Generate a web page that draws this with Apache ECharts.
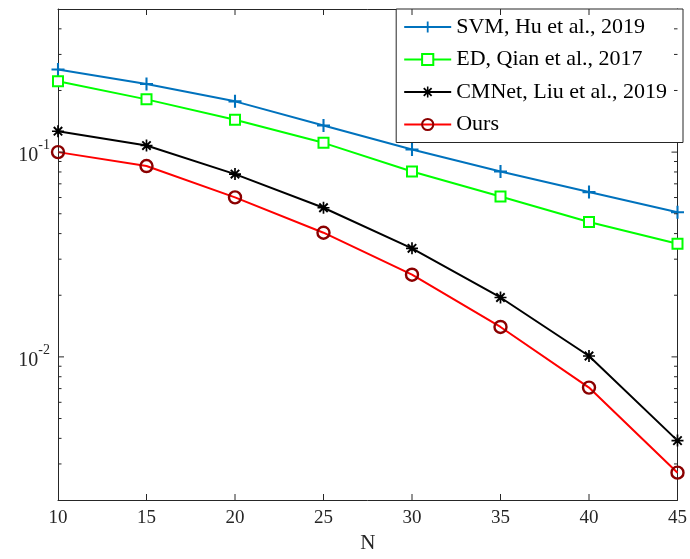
<!DOCTYPE html>
<html>
<head>
<meta charset="utf-8">
<script src="https://cdn.jsdelivr.net/npm/echarts@6/dist/echarts.min.js"></script>
<style>
html,body{margin:0;padding:0;background:#fff;}
#chart{width:690px;height:559px;}
</style>
</head>
<body>
<div id="chart"></div>
<script>
// ---- data ----
const xValues = [10, 15, 20, 25, 30, 35, 40, 45];
const svm   = [0.253, 0.215, 0.177, 0.135, 0.103, 0.0804, 0.0638, 0.0509];
const ed    = [0.222, 0.181, 0.144, 0.111, 0.0804, 0.0607, 0.0456, 0.0357];
const cmnet = [0.1265, 0.1077, 0.0781, 0.0535, 0.0339, 0.0195, 0.0101, 0.0039];
const ours  = [0.100, 0.0855, 0.0601, 0.0404, 0.0252, 0.0140, 0.00708, 0.00272];
const seriesNames = ['SVM, Hu et al., 2019', 'ED, Qian et al., 2017', 'CMNet, Liu et al., 2019', 'Ours'];
const xTicks = [15, 20, 25, 30, 35, 40];
const yMajorTicks = [0.01, 0.1];
const yMinorTicks = [0.003, 0.004, 0.005, 0.006, 0.007, 0.008, 0.009,
                     0.02, 0.03, 0.04, 0.05, 0.06, 0.07, 0.08, 0.09,
                     0.2, 0.3, 0.4];

// ---- style ----
const FONT = 'Liberation Serif';
const AX = '#262626';
const plusPath = 'path://M0.42,0H0.58V0.42H1V0.58H0.58V1H0.42V0.58H0V0.42H0.42Z';
const starPath = 'path://M0.43,0H0.57V0.43H1V0.57H0.57V1H0.43V0.57H0V0.43H0.43Z' +
  'M0.207,0.093L0.907,0.793L0.793,0.907L0.093,0.207Z' +
  'M0.793,0.093L0.907,0.207L0.207,0.907L0.093,0.793Z';

const pairs = arr => xValues.map((x, i) => [x, arr[i]]);
const X_MIN = 10, X_MAX = 45, Y_MIN = 0.002, Y_MAX = 0.5;
const MAJOR_LEN = 6, MINOR_LEN = 3.5;

const chart = echarts.init(document.getElementById('chart'), null, {renderer: 'canvas'});

const xBase = {
  type: 'value', min: X_MIN, max: X_MAX, interval: 5,
  axisLine: {show: true, onZero: false, lineStyle: {color: AX, width: 1}},
  axisTick: {show: false},
  splitLine: {show: false}
};
const yBase = {
  type: 'log', logBase: 10, min: Y_MIN, max: Y_MAX,
  splitLine: {show: false}
};

const yTickRows = yMinorTicks.map(v => [X_MIN, v, MINOR_LEN])
  .concat(yMajorTicks.map(v => [X_MIN, v, MAJOR_LEN]));
const xTickRows = xTicks.map(v => [v, Y_MIN, MAJOR_LEN]);
const ST = {stroke: AX, lineWidth: 1};

const option = {
  animation: false,
  backgroundColor: '#fff',
  grid: {left: 58, right: 7, top: 9, bottom: 56, containLabel: false},
  xAxis: [
    Object.assign({}, xBase, {
      position: 'bottom',
      name: 'N', nameLocation: 'middle', nameGap: 33,
      nameTextStyle: {fontFamily: FONT, fontSize: 21, color: AX},
      axisLabel: {show: true, margin: 9, fontFamily: FONT, fontSize: 19, color: AX}
    }),
    Object.assign({}, xBase, {
      position: 'top',
      axisLabel: {show: false}
    })
  ],
  yAxis: [
    Object.assign({}, yBase, {
      position: 'left',
      axisLine: {show: true, onZero: false, lineStyle: {color: AX, width: 1}},
      axisTick: {show: false},
      axisLabel: {
        show: true, margin: 8, customValues: yMajorTicks,
        formatter: function (v) {
          const e = Math.round(Math.log10(v));
          return '{b|10}{s|' + e + '}';
        },
        rich: {
          b: {fontFamily: FONT, fontSize: 20, color: AX, lineHeight: 28, verticalAlign: 'bottom'},
          s: {fontFamily: FONT, fontSize: 14, color: AX, verticalAlign: 'top', lineHeight: 28}
        }
      }
    }),
    Object.assign({}, yBase, {
      position: 'right',
      axisLine: {show: true, onZero: false, lineStyle: {color: AX, width: 1}},
      axisTick: {show: false},
      axisLabel: {show: false}
    })
  ],
  legend: {
    orient: 'vertical', right: 7, top: 9, align: 'left',
    backgroundColor: '#fff', borderColor: AX, borderWidth: 1,
    padding: [7, 16, 7, 7], itemGap: 10.5, itemWidth: 47, itemHeight: 14,
    textStyle: {fontFamily: FONT, fontSize: 22, color: '#000'},
    data: seriesNames
  },
  series: [
    {
      type: 'custom', silent: true, clip: false, z: 6,
      data: yTickRows,
      encode: {x: 0, y: 1},
      renderItem: function (params, api) {
        const y = api.value(1);
        const len = api.value(2);
        const pL = api.coord([X_MIN, y]);
        const pR = api.coord([X_MAX, y]);
        return {
          type: 'group',
          children: [
            {type: 'line', shape: {x1: pL[0], y1: pL[1], x2: pL[0] + len, y2: pL[1]}, style: ST},
            {type: 'line', shape: {x1: pR[0] - len, y1: pR[1], x2: pR[0], y2: pR[1]}, style: ST}
          ]
        };
      }
    },
    {
      type: 'custom', silent: true, clip: false, z: 6,
      data: xTickRows,
      encode: {x: 0, y: 1},
      renderItem: function (params, api) {
        const x = api.value(0);
        const len = api.value(2);
        const pB = api.coord([x, Y_MIN]);
        const pT = api.coord([x, Y_MAX]);
        return {
          type: 'group',
          children: [
            {type: 'line', shape: {x1: pB[0], y1: pB[1], x2: pB[0], y2: pB[1] - len}, style: ST},
            {type: 'line', shape: {x1: pT[0], y1: pT[1], x2: pT[0], y2: pT[1] + len}, style: ST}
          ]
        };
      }
    },
    {
      name: seriesNames[0], type: 'line', data: pairs(svm),
      symbol: plusPath, symbolSize: 13,
      lineStyle: {color: '#0072BD', width: 2},
      itemStyle: {color: '#0072BD'}
    },
    {
      name: seriesNames[1], type: 'line', data: pairs(ed),
      symbol: 'emptyRect', symbolSize: 10,
      lineStyle: {color: '#00FF00', width: 2},
      itemStyle: {color: '#00FF00', borderColor: '#00FF00', borderWidth: 2}
    },
    {
      name: seriesNames[2], type: 'line', data: pairs(cmnet),
      symbol: starPath, symbolSize: 12,
      lineStyle: {color: '#000000', width: 2},
      itemStyle: {color: '#000000'}
    },
    {
      name: seriesNames[3], type: 'line', data: pairs(ours),
      symbol: 'circle', symbolSize: 12,
      lineStyle: {color: '#FF0000', width: 2},
      itemStyle: {color: 'rgba(0,0,0,0)', borderColor: '#8B0000', borderWidth: 2.4}
    }
  ]
};
chart.setOption(option);
</script>
</body>
</html>
